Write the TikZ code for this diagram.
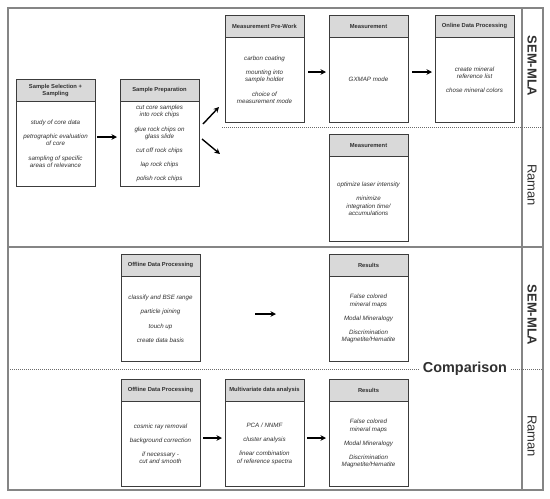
\documentclass[tikz,border=0pt]{standalone}
\usepackage{fontspec}
\setmainfont{Liberation Sans}
\usetikzlibrary{calc,arrows.meta}
\definecolor{frameg}{HTML}{858585}
\definecolor{boxg}{HTML}{3C3C3C}
\definecolor{headg}{HTML}{D9D9D9}
\definecolor{dotg}{HTML}{6A6A6A}
\definecolor{textg}{HTML}{303030}
\tikzset{
  boxmain/.style={draw=boxg, line width=0.8pt, fill=white, minimum width=79pt, minimum height=107pt, inner sep=0pt, outer sep=0pt, anchor=north west},
  boxhead/.style={draw=boxg, line width=0.8pt, fill=headg, minimum width=79pt, minimum height=22.5pt, inner sep=0.5pt, outer sep=0pt, anchor=north, align=center, text=textg, font=\fontsize{5.8}{7}\selectfont\bfseries},
  boxbody/.style={align=center, inner sep=0pt, text=textg, font=\fontsize{6.2}{7.2}\selectfont\itshape},
  flow/.style={-{Stealth[length=5.5pt,width=5.5pt]}, line width=1.4pt, black},
  frameline/.style={draw=frameg, line width=1.6pt},
  dotline/.style={draw=dotg, line width=1pt, dash pattern=on 1pt off 1pt},
  sidelab/.style={rotate=-90, text=textg, font=\fontsize{13}{14}\selectfont},
}
\newcommand\procbox[4]{%
  \node[boxmain] (#1) at (#2) {};
  \node[boxhead] (#1-h) at (#1.north) {#3};
  \node[boxbody] (#1-b) at ($(#1-h.south)!0.5!(#1.south)$) {#4};
}
\begin{document}
\begin{tikzpicture}[x=1pt,y=-1pt]
\useasboundingbox (0,0) rectangle (550,499);
% frame
\draw[frameline] (8,8) rectangle (543,490);
\coordinate (hl) at (8,247); \coordinate (hr) at (543,247);
\draw[frameline] (hl) -- (hr);
\coordinate (vt) at (522,8); \coordinate (vb) at (522,490);
\draw[frameline] (vt) -- (vb);
% dotted separators
\coordinate (d1l) at (222,127); \coordinate (d1r) at (543,127);
\draw[dotline] (d1l) -- (d1r);
\coordinate (d2l) at (10,369); \coordinate (d2m) at (419,369);
\coordinate (d2n) at (511,369); \coordinate (d2r) at (543,369);
\draw[dotline] (d2l) -- (d2m);
\draw[dotline] (d2n) -- (d2r);
\node[font=\fontsize{14.4}{16}\selectfont\bfseries, text=textg, inner sep=0pt] (cmp) at (465,369) {Comparison};
% side labels
\node[sidelab, font=\fontsize{13}{14}\selectfont\bfseries] (s1) at (532,66) {SEM-MLA};
\node[sidelab] (r1) at (532,185) {Raman};
\node[sidelab, font=\fontsize{13}{14}\selectfont\bfseries] (s2) at (532,315) {SEM-MLA};
\node[sidelab] (r2) at (532,436) {Raman};
% boxes
\procbox{sel}{16,79}{Sample Selection +\\Sampling}{study of core data\\[7pt]petrographic evaluation\\of core\\[7pt]sampling of specific\\areas of relevance}
\procbox{prep}{120,79}{Sample Preparation}{cut core samples\\into rock chips\\[7pt]glue rock chips on\\glass slide\\[7pt]cut off rock chips\\[7pt]lap rock chips\\[7pt]polish rock chips}
\procbox{prew}{225,15}{Measurement Pre-Work}{carbon coating\\[7pt]mounting into\\sample holder\\[7pt]choice of\\measurement mode}
\procbox{meas}{329,15}{Measurement}{GXMAP mode}
\procbox{onl}{435,15}{Online Data Processing}{create mineral\\reference list\\[7pt]chose mineral colors}
\procbox{rmeas}{329,134}{Measurement}{optimize laser intensity\\[7pt]minimize\\integration time/\\accumulations}
\procbox{offs}{121,254}{Offline Data Processing}{classify and BSE range\\[7pt]particle joining\\[7pt]touch up\\[7pt]create data basis}
\procbox{ress}{329,254}{Results}{False colored\\mineral maps\\[7pt]Modal Mineralogy\\[7pt]Discrimination\\Magnetite/Hematite}
\procbox{offr}{121,379}{Offline Data Processing}{cosmic ray removal\\[7pt]background correction\\[7pt]if necessary -\\cut and smooth}
\procbox{multi}{225,379}{Multivariate data analysis}{PCA / NNMF\\[7pt]cluster analysis\\[7pt]linear combination\\of reference spectra}
\procbox{resr}{329,379}{Results}{False colored\\mineral maps\\[7pt]Modal Mineralogy\\[7pt]Discrimination\\Magnetite/Hematite}
% arrows
\draw[flow, shorten <=2pt, shorten >=3pt] (sel.east |- 0,137) -- (prep.west |- 0,137);
\coordinate (u1) at (203,124); \coordinate (u2) at (219,107);
\draw[flow] (u1) -- (u2);
\coordinate (w1) at (202,139); \coordinate (w2) at (220,154);
\draw[flow] (w1) -- (w2);
\draw[flow, shorten <=4pt, shorten >=3pt] (prew.east |- 0,72) -- (meas.west |- 0,72);
\draw[flow, shorten <=4pt, shorten >=3pt] (meas.east |- 0,72) -- (onl.west |- 0,72);
\coordinate (a1) at (255,314); \coordinate (a2) at (276,314);
\draw[flow] (a1) -- (a2);
\draw[flow, shorten <=3pt, shorten >=3pt] (offr.east |- 0,438) -- (multi.west |- 0,438);
\draw[flow, shorten <=3pt, shorten >=3pt] (multi.east |- 0,438) -- (resr.west |- 0,438);
\end{tikzpicture}
\end{document}
